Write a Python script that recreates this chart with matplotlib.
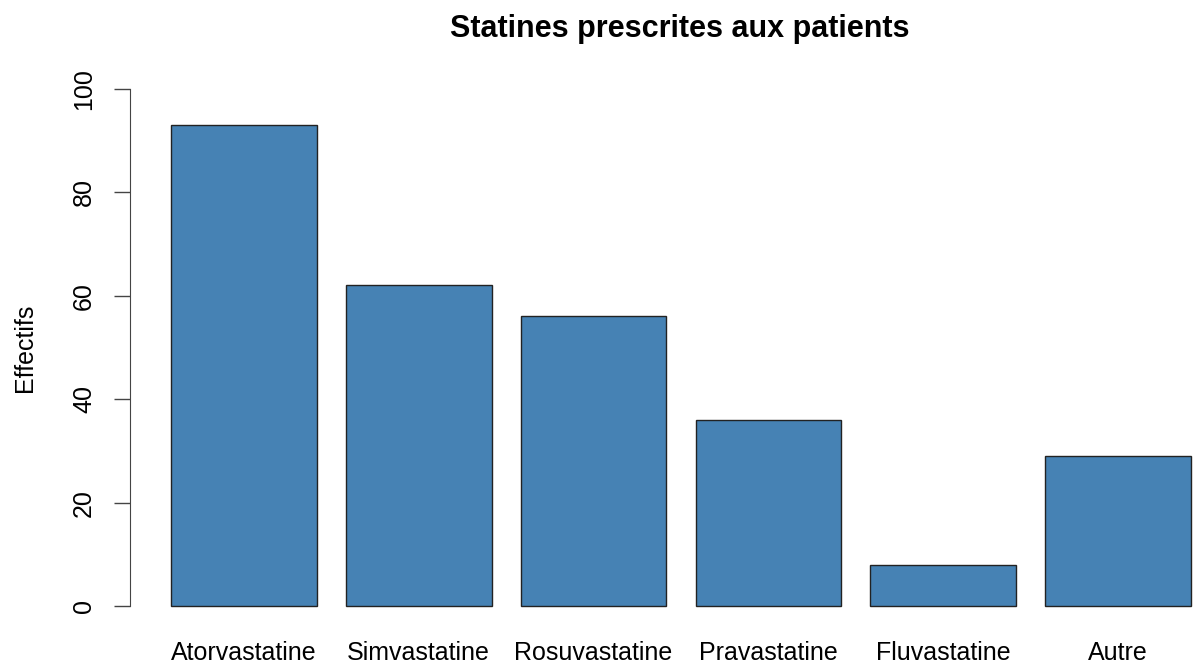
import matplotlib
matplotlib.use("Agg")
from matplotlib import pyplot as plt

statines = ["Atorvastatine", "Simvastatine", "Rosuvastatine", "Pravastatine", "Fluvastatine", "Autre"]
effectifs = [93, 62, 56, 36, 8, 29]
yticks = [0, 20, 40, 60, 80, 100]

plt.rcParams['font.family'] = ['Liberation Sans', 'DejaVu Sans']

fig = plt.figure(figsize=(11.93, 6.66), dpi=100)
# R style barplot: width 1, space 0.2, axes cropped on the right
ax = fig.add_axes([130.2 / 1193, 39.3 / 666, 1101.5 / 1193, 558.4 / 666])

pos = [0.2 + 1.2 * i + 0.5 for i in range(len(statines))]
ax.bar(pos, effectifs, width=1.0, color="#4682B4", edgecolor="#222222", linewidth=1.0)

ax.set_xlim(-0.08, 7.48)
ax.set_ylim(-4, 104)
for s in ["top", "right", "bottom"]:
    ax.spines[s].set_visible(False)
ax.spines["left"].set_bounds(0, 100)
ax.spines["left"].set_color("#444444")
ax.set_yticks(yticks)
ax.set_yticklabels([str(v) for v in yticks], rotation=90, va="center", fontsize=18)
ax.tick_params(axis="y", length=11.5, width=1, color="#444444", pad=13)
ax.set_xticks(pos)
ax.set_xticklabels(statines, fontsize=18)
ax.tick_params(axis="x", length=0, pad=10)
ax.set_ylabel("Effectifs", fontsize=18, labelpad=25)

fig.text(680 / 1193, 1 - 29 / 666, "Statines prescrites aux patients",
         ha="center", va="center", fontsize=22, fontweight="bold")

fig.savefig("out.png", dpi=100)
